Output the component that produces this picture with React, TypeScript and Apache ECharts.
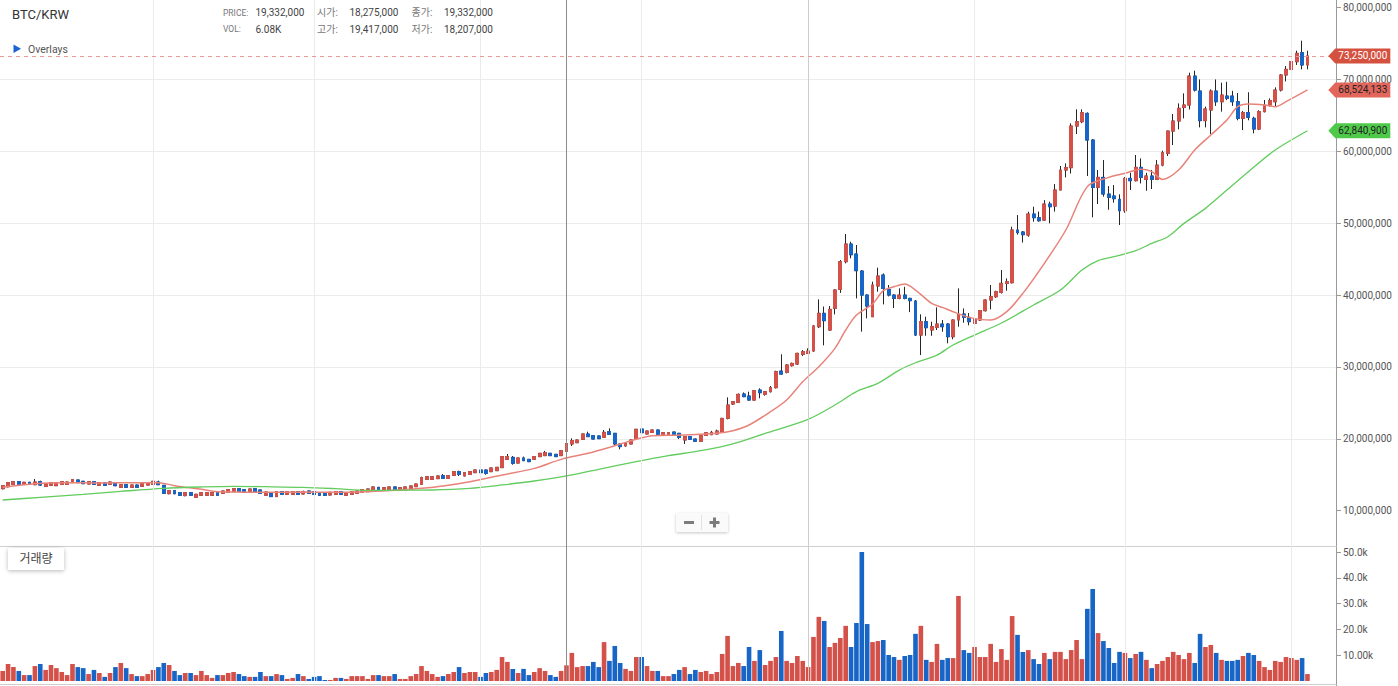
import React, { useEffect, useRef } from 'react';
import * as echarts from 'echarts';

// ---------- data (prices in million KRW, volume in thousands) ----------
const startDay = Date.UTC(2020, 7, 4); // first visible candle: 2020-08-04
const slotCount = 249; // 244 candles + 5 empty slots on the right

// [open, close, low, high]
const ohlc: [number, number, number, number][] = [
  [13.06, 13.48, 12.98, 13.55], [13.34, 13.90, 13.25, 14.00], [13.67, 14.04, 13.60, 14.10], [14.04, 13.67, 13.62, 14.09],
  [13.67, 13.95, 13.62, 14.00], [13.95, 13.67, 13.62, 14.00], [13.62, 13.99, 13.55, 14.41], [14.04, 13.57, 13.44, 14.18],
  [13.39, 13.76, 13.34, 13.81], [13.53, 13.90, 13.48, 13.95], [13.48, 13.90, 13.44, 13.95], [13.67, 14.04, 13.62, 14.09],
  [13.67, 13.99, 13.62, 14.04], [13.90, 14.32, 13.86, 14.41], [14.27, 13.90, 13.86, 14.32], [14.09, 13.76, 13.71, 14.13],
  [13.71, 14.04, 13.67, 14.09], [14.04, 13.67, 13.62, 14.09], [13.53, 13.90, 13.48, 13.95], [13.86, 13.53, 13.48, 13.90],
  [13.67, 13.99, 13.62, 14.04], [13.90, 13.48, 13.39, 13.95], [13.25, 13.62, 13.20, 13.67], [13.62, 13.25, 13.20, 13.67],
  [13.25, 13.57, 13.20, 13.62], [13.57, 13.25, 13.20, 13.62], [13.39, 13.76, 13.34, 13.81], [13.57, 13.90, 13.53, 13.95],
  [13.67, 14.09, 13.62, 14.13], [13.99, 13.62, 13.57, 14.18], [13.53, 12.42, 12.37, 13.57], [12.37, 12.79, 12.28, 12.83],
  [12.79, 12.37, 12.28, 12.83], [12.51, 12.14, 12.10, 12.56], [12.10, 12.51, 12.00, 12.56], [12.51, 12.14, 12.05, 12.56],
  [11.87, 12.28, 11.82, 12.33], [12.14, 12.51, 12.10, 12.56], [12.14, 12.51, 12.10, 12.56], [12.14, 12.51, 12.10, 12.56],
  [12.51, 12.14, 12.10, 12.56], [12.42, 12.74, 12.37, 12.79], [12.56, 12.93, 12.51, 12.98], [12.65, 13.06, 12.60, 13.11],
  [13.06, 12.65, 12.60, 13.11], [12.93, 12.56, 12.51, 12.98], [12.65, 13.02, 12.60, 13.06], [13.06, 12.65, 12.60, 13.11],
  [12.88, 12.42, 12.33, 12.93], [12.14, 12.60, 12.10, 12.65], [12.42, 11.96, 11.91, 12.46], [11.96, 12.65, 11.91, 12.70],
  [12.65, 12.28, 12.24, 12.70], [12.28, 12.65, 12.24, 12.70], [12.28, 12.65, 12.24, 12.70], [12.65, 12.28, 12.24, 12.70],
  [12.33, 12.65, 12.28, 12.79], [12.74, 12.42, 12.37, 12.79], [12.65, 12.28, 12.24, 12.70], [12.51, 12.14, 12.10, 12.56],
  [12.51, 12.14, 12.10, 12.56], [12.19, 12.56, 12.14, 12.60], [12.28, 12.65, 12.24, 12.70], [12.65, 12.28, 12.24, 12.70],
  [12.14, 12.51, 12.10, 12.56], [12.28, 12.65, 12.24, 12.70], [12.42, 12.74, 12.37, 12.79], [12.60, 12.93, 12.56, 12.98],
  [12.65, 13.02, 12.60, 13.06], [12.93, 13.30, 12.88, 13.34], [13.25, 12.88, 12.83, 13.30], [12.83, 13.20, 12.79, 13.25],
  [12.93, 13.30, 12.88, 13.34], [13.30, 12.88, 12.83, 13.34], [12.83, 13.20, 12.79, 13.25], [12.88, 13.30, 12.83, 13.34],
  [13.02, 13.44, 12.98, 13.48], [13.34, 13.71, 13.30, 13.76], [13.67, 14.59, 13.60, 14.73], [14.36, 14.73, 14.32, 14.78],
  [14.36, 14.73, 14.32, 14.78], [14.46, 14.83, 14.41, 14.87], [14.87, 14.50, 14.46, 15.10], [14.50, 14.87, 14.46, 14.92],
  [14.92, 15.43, 14.87, 15.48], [15.43, 15.06, 14.83, 15.57], [14.83, 15.29, 14.78, 15.34], [15.06, 15.43, 15.01, 15.48],
  [15.29, 15.66, 15.24, 15.71], [15.66, 15.29, 15.24, 15.71], [15.66, 15.20, 15.00, 15.71], [15.43, 15.94, 15.38, 15.99],
  [15.57, 16.03, 15.52, 16.08], [15.99, 17.52, 15.94, 17.57], [17.14, 17.52, 17.10, 17.89], [17.42, 16.59, 16.40, 17.60],
  [16.63, 17.33, 16.59, 17.38], [17.33, 16.96, 16.91, 17.52], [17.14, 16.82, 16.77, 17.19], [17.14, 17.52, 17.10, 17.57],
  [17.52, 17.98, 17.47, 18.03], [17.66, 18.07, 17.61, 18.31], [17.98, 17.66, 17.61, 18.03], [17.84, 17.52, 17.47, 17.89],
  [17.66, 18.35, 17.61, 18.40], [18.275, 19.332, 18.207, 19.417], [19.28, 19.74, 19.00, 20.06], [19.46, 19.83, 19.41, 19.88],
  [19.93, 20.67, 19.88, 20.72], [20.67, 20.30, 20.25, 20.99], [20.44, 19.97, 19.92, 20.49], [20.39, 20.02, 19.97, 20.44],
  [20.20, 20.90, 20.15, 21.22], [20.99, 20.62, 20.57, 21.45], [20.76, 19.28, 19.10, 20.81], [19.28, 18.91, 18.54, 19.33],
  [19.00, 19.37, 18.95, 19.42], [19.28, 19.83, 19.23, 19.88], [20.06, 21.32, 20.01, 21.37], [21.36, 20.85, 20.80, 21.41],
  [20.67, 21.08, 20.62, 21.13], [20.90, 21.22, 20.85, 21.27], [21.22, 20.62, 20.57, 21.27], [20.53, 20.85, 20.48, 20.90],
  [20.53, 20.85, 20.48, 20.90], [20.94, 20.57, 20.52, 20.99], [20.76, 20.20, 19.97, 20.81], [19.83, 20.30, 19.28, 20.35],
  [20.30, 19.93, 19.88, 20.35], [19.97, 19.65, 19.60, 20.02], [19.65, 20.53, 19.60, 20.58], [20.48, 20.85, 20.43, 20.90],
  [20.57, 20.90, 20.52, 21.10], [20.67, 21.08, 20.62, 21.27], [20.99, 22.84, 20.94, 22.90], [22.84, 24.70, 22.70, 25.76],
  [24.84, 25.16, 24.70, 25.25], [25.07, 26.18, 24.98, 26.30], [26.23, 25.86, 25.80, 26.45], [25.95, 25.39, 25.30, 26.55],
  [25.39, 26.69, 25.30, 26.78], [26.78, 26.41, 25.63, 27.02], [26.18, 26.55, 26.00, 26.65], [26.55, 27.11, 26.45, 27.34],
  [27.11, 29.33, 27.00, 29.47], [29.42, 29.00, 28.90, 31.75], [29.24, 30.26, 29.10, 30.40], [30.17, 30.49, 30.05, 30.60],
  [30.40, 31.88, 30.26, 31.97], [31.74, 32.11, 31.51, 32.34], [31.88, 32.21, 31.80, 32.58], [32.21, 35.69, 32.10, 35.80],
  [35.59, 37.45, 35.40, 39.39], [37.45, 36.43, 33.00, 38.40], [35.13, 38.00, 35.00, 38.46], [38.14, 40.69, 37.30, 40.78],
  [40.78, 44.63, 40.30, 44.86], [44.63, 47.09, 44.40, 48.48], [47.09, 45.60, 45.10, 47.41], [45.70, 43.38, 39.53, 46.95],
  [43.33, 39.99, 34.90, 43.47], [39.99, 38.46, 36.75, 40.10], [36.98, 41.39, 36.98, 41.85], [41.25, 42.64, 40.46, 43.80],
  [42.78, 40.92, 38.69, 43.00], [40.78, 39.99, 39.80, 41.39], [39.99, 39.53, 38.18, 40.10], [39.53, 39.99, 39.40, 40.92],
  [39.99, 39.53, 39.40, 41.15], [39.53, 39.21, 37.62, 39.60], [39.16, 34.43, 34.30, 39.30], [34.43, 36.29, 31.65, 37.31],
  [36.29, 35.45, 34.33, 36.98], [35.13, 35.59, 34.33, 36.29], [35.50, 35.96, 35.13, 38.28], [35.96, 35.59, 34.90, 36.52],
  [35.96, 34.20, 33.28, 36.10], [34.20, 36.52, 33.84, 36.60], [36.52, 37.35, 35.59, 40.92], [37.35, 36.89, 36.15, 38.14],
  [36.89, 36.29, 35.78, 37.49], [36.06, 36.61, 35.78, 38.00], [36.52, 37.82, 36.40, 37.90], [37.82, 39.30, 37.70, 39.40],
  [39.30, 39.76, 38.00, 41.39], [39.76, 40.46, 39.60, 40.60], [40.37, 41.62, 40.20, 43.47], [41.62, 41.85, 40.60, 42.30],
  [41.71, 49.04, 41.60, 49.50], [49.04, 48.67, 48.40, 51.12], [48.76, 48.39, 47.30, 48.90], [48.34, 51.26, 48.10, 51.58],
  [51.26, 50.75, 50.20, 52.28], [50.75, 50.33, 50.20, 51.60], [50.42, 52.65, 50.30, 53.20], [52.65, 52.28, 49.97, 52.98],
  [52.37, 54.60, 51.60, 55.43], [54.60, 57.38, 54.60, 57.94], [57.38, 57.71, 56.36, 58.30], [57.71, 63.50, 56.90, 63.87],
  [63.50, 64.10, 62.39, 65.82], [64.10, 65.35, 63.90, 65.82], [65.26, 61.55, 56.55, 65.40], [61.55, 54.97, 50.80, 61.70],
  [54.97, 56.36, 52.65, 57.38], [56.36, 54.04, 53.68, 58.77], [54.04, 53.58, 51.86, 55.15], [53.77, 53.40, 52.84, 55.29],
  [53.30, 51.72, 49.73, 54.00], [51.72, 56.22, 51.44, 56.40], [56.22, 55.90, 54.60, 57.00], [55.90, 57.75, 55.80, 59.47],
  [57.75, 56.36, 55.52, 59.00], [56.08, 56.55, 54.50, 57.00], [56.55, 56.08, 54.74, 57.38], [56.08, 58.07, 56.00, 58.77],
  [58.07, 59.79, 57.90, 60.07], [59.70, 62.80, 59.33, 62.85], [62.80, 64.20, 60.86, 65.17], [64.20, 65.96, 63.04, 66.65],
  [66.09, 66.42, 64.57, 68.05], [66.42, 70.45, 65.80, 70.92], [70.45, 68.50, 68.30, 71.20], [68.37, 64.25, 63.32, 69.98],
  [64.25, 65.87, 63.32, 66.20], [65.73, 68.37, 62.40, 68.60], [68.37, 66.88, 66.30, 69.98], [66.88, 67.81, 65.50, 69.53],
  [67.67, 67.35, 67.10, 69.65], [67.67, 66.88, 66.30, 68.40], [66.88, 64.57, 64.30, 68.10], [64.57, 65.36, 62.94, 65.60],
  [65.36, 64.71, 64.30, 68.20], [64.57, 63.08, 62.48, 64.80], [63.08, 65.50, 62.94, 65.70], [65.50, 66.42, 65.40, 67.12],
  [66.42, 67.03, 66.20, 67.35], [66.88, 68.51, 66.20, 68.88], [68.51, 70.60, 68.30, 70.74], [70.60, 71.38, 69.70, 71.85],
  [71.38, 72.45, 70.84, 72.91], [72.45, 73.61, 71.99, 73.98], [73.70, 71.99, 71.38, 75.37], [71.99, 73.25, 71.38, 73.98],
];

const volumeK: number[] = [
  3.9, 6.6, 5.4, 3.9, 2.3, 2.3, 5.8, 6.6, 4.3, 6.2, 5.0, 3.5, 2.3, 6.6, 5.4, 5.0, 2.7, 4.3, 3.1, 1.6,
  3.1, 5.4, 7.0, 5.0, 2.7, 1.9, 1.9, 2.7, 4.3, 5.4, 7.0, 6.2, 3.9, 2.3, 3.1, 3.1, 2.3, 3.9, 2.3, 1.2,
  2.3, 2.3, 3.1, 3.5, 2.7, 1.9, 1.6, 1.6, 3.5, 1.9, 1.9, 2.7, 2.3, 0.8, 1.2, 2.7, 1.9, 0.8, 1.6, 1.9,
  0.4, 0.4, 1.2, 1.2, 0.8, 1.9, 1.9, 1.9, 0.8, 2.3, 2.3, 1.9, 1.9, 2.7, 0.8, 0.8, 1.9, 2.7, 5.8, 3.9,
  2.7, 1.6, 1.9, 2.7, 3.5, 5.4, 3.1, 3.5, 3.5, 1.6, 3.1, 3.5, 4.3, 9.3, 7.4, 4.7, 3.1, 4.7, 2.3, 3.5,
  5.0, 3.9, 2.3, 1.6, 3.9, 6.08, 10.9, 5.4, 5.8, 5.8, 7.4, 5.4, 15.1, 7.8, 13.6, 7.0, 4.7, 3.9, 9.3, 9.3,
  5.8, 3.9, 3.9, 1.9, 1.9, 2.7, 4.3, 5.4, 2.7, 4.3, 3.5, 3.9, 2.7, 3.5, 10.5, 17.5, 5.8, 7.0, 5.8, 13.2,
  7.8, 12.0, 6.2, 7.8, 9.3, 19.4, 7.8, 7.0, 9.7, 7.8, 5.4, 17.1, 24.9, 23.3, 13.2, 14.8, 16.7, 21.4, 13.2, 22.5,
  50.1, 22.1, 15.1, 15.5, 15.9, 10.1, 9.3, 8.2, 9.7, 10.1, 18.3, 21.4, 8.2, 7.4, 14.4, 8.2, 8.9, 8.9, 33.0, 12.0,
  10.9, 13.2, 9.3, 9.3, 14.4, 7.4, 12.4, 8.2, 25.2, 17.9, 11.3, 12.0, 8.5, 6.6, 10.9, 8.5, 11.3, 11.3, 8.5, 12.0,
  15.9, 8.5, 28.0, 35.7, 18.6, 15.5, 12.8, 7.0, 11.3, 10.9, 8.9, 10.5, 11.3, 8.2, 5.0, 6.6, 7.8, 9.3, 11.3, 10.1,
  8.5, 10.9, 7.0, 18.3, 13.2, 14.0, 10.9, 8.2, 7.8, 7.8, 8.2, 9.7, 10.9, 10.1, 7.8, 5.4, 4.3, 7.8, 7.4, 9.3,
  8.9, 8.2, 8.9, 2.7,
];

// moving averages: [candle index, value]
const maShort: [number, number][] = [
  [0, 13.25], [6, 13.76], [12, 13.90], [18, 13.85], [24, 13.90], [29, 13.90], [32, 13.48], [37, 12.97], [40, 12.65],
  [43, 12.60], [49, 12.55], [56, 12.60], [62, 12.55], [68, 12.65], [74, 12.88], [78, 13.11], [82, 13.44], [87, 14.04],
  [93, 14.97], [99, 15.89], [104, 17.14], [109, 17.98], [113, 18.81], [118, 19.93], [121, 20.44], [127, 20.53],
  [133, 20.76], [136, 21.13], [139, 21.92], [143, 23.77], [146, 25.40], [149, 27.94], [152, 30.03], [155, 32.58],
  [157, 35.13], [159, 37.21], [162, 38.74], [164, 40.60], [166, 41.15], [168, 41.52], [170, 40.69], [173, 38.83],
  [175, 38.28], [177, 37.68], [180, 36.89], [182, 36.61], [184, 36.52], [187, 37.69], [190, 40.23], [194, 44.40],
  [198, 49.04], [202, 55.07], [206, 56.36], [209, 56.92], [212, 57.48], [214, 57.15], [216, 56.08], [219, 57.38],
  [222, 60.16], [225, 62.25], [228, 64.34], [230, 66.19], [232, 66.56], [235, 66.42], [237, 66.19], [239, 66.89],
  [243, 68.524133],
];
const maLong: [number, number][] = [
  [0, 11.49], [7, 11.86], [15, 12.28], [22, 12.69], [30, 13.11], [37, 13.30], [43, 13.39], [49, 13.34], [56, 13.25],
  [62, 13.06], [68, 12.83], [74, 12.85], [80, 12.88], [87, 13.11], [93, 13.58], [99, 14.13], [105, 14.83], [111, 15.76],
  [118, 16.82], [124, 17.65], [130, 18.35], [136, 19.30], [142, 20.75], [150, 22.71], [155, 24.70], [159, 26.56],
  [163, 27.71], [167, 29.56], [170, 30.58], [174, 31.65], [177, 33.04], [181, 34.43], [186, 36.10], [192, 38.61],
  [197, 40.69], [201, 43.47], [204, 44.77], [207, 45.33], [211, 46.16], [214, 47.18], [217, 48.11], [220, 49.96],
  [224, 52.05], [228, 54.60], [232, 57.15], [237, 60.16], [243, 62.8409],
];

const priceTicks = [10, 20, 30, 40, 50, 60, 70, 80];
const volumeTicks = [10, 20, 30, 40, 50];
const lastPrice = 73.25;
const crosshairDate = '2020-11-17';
const yearStartDate = '2021-01-01';
const headerLabels = ['PRICE:', 'VOL:', '시가:', '고가:', '종가:', '저가:'];
const headerValues = ['19,332,000', '6.08K', '18,275,000', '19,417,000', '19,332,000', '18,207,000'];

// ---------- derived ----------
const categories: string[] = [];
for (let i = 0; i < slotCount; i++) {
  categories.push(new Date(startDay + i * 86400000).toISOString().slice(0, 10));
}
const lastCategory = categories[slotCount - 1];
const monthStarts = categories
  .slice(0, ohlc.length)
  .filter((d) => d.endsWith('-01') && d !== yearStartDate);

const UP = '#d4514a';
const DOWN = '#1765c6';
const WICK = '#262626';
const FONT = 'Roboto, "Noto Sans CJK KR", sans-serif';

const fmtKRW = (v: number) => Math.round(v * 1e6).toLocaleString('en-US');

const vLines = () => [
  ...monthStarts.map((d) => ({ xAxis: d, lineStyle: { color: '#ebebeb', width: 1, type: 'solid' } })),
  { xAxis: yearStartDate, lineStyle: { color: '#cdcdcd', width: 1, type: 'solid' } },
  { xAxis: crosshairDate, lineStyle: { color: '#8c8c8c', width: 1, type: 'solid' } },
];

const tagPoint = (value: number, bg: string, fg: string) => ({
  silent: true,
  symbol: 'path://M0,7 L7,0 L62,0 L62,14 L7,14 Z',
  symbolSize: [62, 15],
  symbolKeepAspect: false,
  symbolOffset: [25, 0],
  itemStyle: { color: bg },
  label: {
    show: true,
    position: 'inside',
    offset: [3.5, 0],
    formatter: () => fmtKRW(value),
    color: fg,
    fontSize: 10,
    fontFamily: FONT,
  },
  data: [{ coord: [lastCategory, value] }],
});

export default function App() {
  const ref = useRef<HTMLDivElement>(null);

  useEffect(() => {
    if (!ref.current) return;
    const chart = echarts.init(ref.current, null, { renderer: 'svg', width: 1398, height: 686 });

    const headerGraphics: any[] = [];
    const cols = [223, 317, 411.5];
    for (let c = 0; c < 3; c++) {
      for (let r = 0; r < 2; r++) {
        const k = c * 2 + r;
        const y = r === 0 ? 12.5 : 29;
        headerGraphics.push({
          type: 'text', x: cols[c], y, z: 100,
          style: { text: headerLabels[k], fill: '#777', fontSize: c === 0 ? 8.5 : 10, fontFamily: FONT, verticalAlign: 'middle' },
        });
        headerGraphics.push({
          type: 'text', x: cols[c] + 32.5, y, z: 100,
          style: { text: headerValues[k], fill: '#444', fontSize: 10, fontFamily: FONT, verticalAlign: 'middle' },
        });
      }
    }

    const option: any = {
      animation: false,
      backgroundColor: '#ffffff',
      textStyle: { fontFamily: FONT },
      grid: [
        { left: -1, right: 61, top: 0, height: 582.6 },
        { left: -1, right: 61, top: 547, height: 134 },
      ],
      xAxis: [
        { type: 'category', gridIndex: 0, data: categories, boundaryGap: true, show: false },
        { type: 'category', gridIndex: 1, data: categories, boundaryGap: true, show: false },
      ],
      yAxis: [
        {
          type: 'value', gridIndex: 0, position: 'right', min: 0, max: 81.03, interval: 10,
          axisLine: { show: false },
          axisTick: { show: true, length: 4, customValues: priceTicks, lineStyle: { color: '#999' } },
          axisLabel: {
            customValues: priceTicks, margin: 6, color: '#555', fontSize: 10, fontFamily: FONT,
            formatter: (v: number) => (v <= 0 || v % 10 !== 0 ? '' : fmtKRW(v)),
          },
          splitLine: { show: true, showMinLine: false, showMaxLine: false, lineStyle: { color: '#ececec', width: 1 } },
        },
        {
          type: 'value', gridIndex: 1, position: 'right', min: 0, max: 52, interval: 10,
          axisLine: { show: false },
          axisTick: { show: true, length: 4, customValues: volumeTicks, lineStyle: { color: '#999' } },
          axisLabel: {
            customValues: volumeTicks, margin: 6, color: '#555', fontSize: 10, fontFamily: FONT,
            formatter: (v: number) => (v <= 0 || v % 10 !== 0 ? '' : v === 10 ? '10.00k' : v.toFixed(1) + 'k'),
          },
          splitLine: { show: false },
        },
      ],
      series: [
        {
          name: 'wick', type: 'candlestick', xAxisIndex: 0, yAxisIndex: 0, barWidth: 3.4,
          data: ohlc.map((r) => [r[0], r[1], r[2], r[3]]),
          itemStyle: { color: WICK, color0: WICK, borderColor: WICK, borderColor0: WICK, borderWidth: 1 },
          markLine: {
            silent: true, symbol: ['none', 'none'], label: { show: false },
            data: [
              ...vLines(),
              { yAxis: lastPrice, lineStyle: { color: '#e89a94', width: 1, type: [4, 4] } },
            ],
          },
        },
        {
          name: 'body', type: 'candlestick', xAxisIndex: 0, yAxisIndex: 0, barWidth: 3.4,
          data: ohlc.map((r) => [r[0], r[1], Math.min(r[0], r[1]), Math.max(r[0], r[1])]),
          itemStyle: { color: UP, color0: DOWN, borderColor: UP, borderColor0: DOWN, borderWidth: 1 },
          markPoint: tagPoint(lastPrice, '#d5513f', '#ffffff'),
          z: 3,
        },
        {
          name: 'MA short', type: 'line', xAxisIndex: 0, yAxisIndex: 0, data: maShort, smooth: 0.3,
          symbol: 'none', lineStyle: { color: '#e8837a', width: 1.5 },
          markPoint: tagPoint(maShort[maShort.length - 1][1], '#e2665b', '#222'),
          z: 4,
        },
        {
          name: 'MA long', type: 'line', xAxisIndex: 0, yAxisIndex: 0, data: maLong, smooth: 0.3,
          symbol: 'none', lineStyle: { color: '#62cc5e', width: 1.3 },
          markPoint: tagPoint(maLong[maLong.length - 1][1], '#4fc94a', '#222'),
          z: 4,
        },
        {
          name: 'volume', type: 'bar', xAxisIndex: 1, yAxisIndex: 1, barWidth: '86%',
          data: volumeK.map((v, i) => ({ value: v, itemStyle: { color: ohlc[i][1] >= ohlc[i][0] ? UP : DOWN } })),
          markLine: { silent: true, symbol: ['none', 'none'], label: { show: false }, data: vLines() },
        },
      ],
      graphic: [
        { type: 'line', z: 1, shape: { x1: 1336.5, y1: 0, x2: 1336.5, y2: 686 }, style: { stroke: '#9a9a9a', lineWidth: 1 } },
        { type: 'line', z: 1, shape: { x1: 0, y1: 546.5, x2: 1336.5, y2: 546.5 }, style: { stroke: '#cfcfcf', lineWidth: 1 } },
        { type: 'line', z: 1, shape: { x1: 0, y1: 684.5, x2: 1336.5, y2: 684.5 }, style: { stroke: '#cfcfcf', lineWidth: 1 } },
        { type: 'text', x: 12, y: 14.5, z: 100, style: { text: 'BTC/KRW', fill: '#333', fontSize: 13, fontFamily: FONT, verticalAlign: 'middle' } },
        ...headerGraphics,
        { type: 'polygon', z: 100, shape: { points: [[13.5, 44.5], [13.5, 53], [21, 48.8]] }, style: { fill: '#1a62d6' } },
        { type: 'text', x: 28, y: 49, z: 100, style: { text: 'Overlays', fill: '#555', fontSize: 10.5, fontFamily: FONT, verticalAlign: 'middle' } },
        {
          type: 'rect', z: 100, shape: { x: 8, y: 548, width: 56, height: 22, r: 1 },
          style: { fill: '#ffffff', shadowBlur: 4, shadowColor: 'rgba(0,0,0,0.28)', shadowOffsetY: 1 },
        },
        { type: 'text', x: 36, y: 559, z: 101, style: { text: '거래량', fill: '#444', fontSize: 12, fontFamily: FONT, align: 'center', verticalAlign: 'middle' } },
        {
          type: 'rect', z: 100, shape: { x: 676, y: 513, width: 52, height: 19, r: 1 },
          style: { fill: '#fafafa', shadowBlur: 3, shadowColor: 'rgba(0,0,0,0.22)', shadowOffsetY: 1 },
        },
        { type: 'line', z: 101, shape: { x1: 701.5, y1: 515, x2: 701.5, y2: 530 }, style: { stroke: '#e2e2e2', lineWidth: 1 } },
        { type: 'rect', z: 101, shape: { x: 684, y: 521, width: 10, height: 3 }, style: { fill: '#7c7c7c' } },
        { type: 'rect', z: 101, shape: { x: 709.5, y: 521, width: 10, height: 3 }, style: { fill: '#7c7c7c' } },
        { type: 'rect', z: 101, shape: { x: 713, y: 517.5, width: 3, height: 10 }, style: { fill: '#7c7c7c' } },
      ],
    };

    chart.setOption(option);
    return () => chart.dispose();
  }, []);

  return (
    <div style={{ position: 'absolute', left: 0, top: 0, width: 1398, height: 686, background: '#fff' }}>
      <div ref={ref} style={{ width: 1398, height: 686 }} />
    </div>
  );
}
